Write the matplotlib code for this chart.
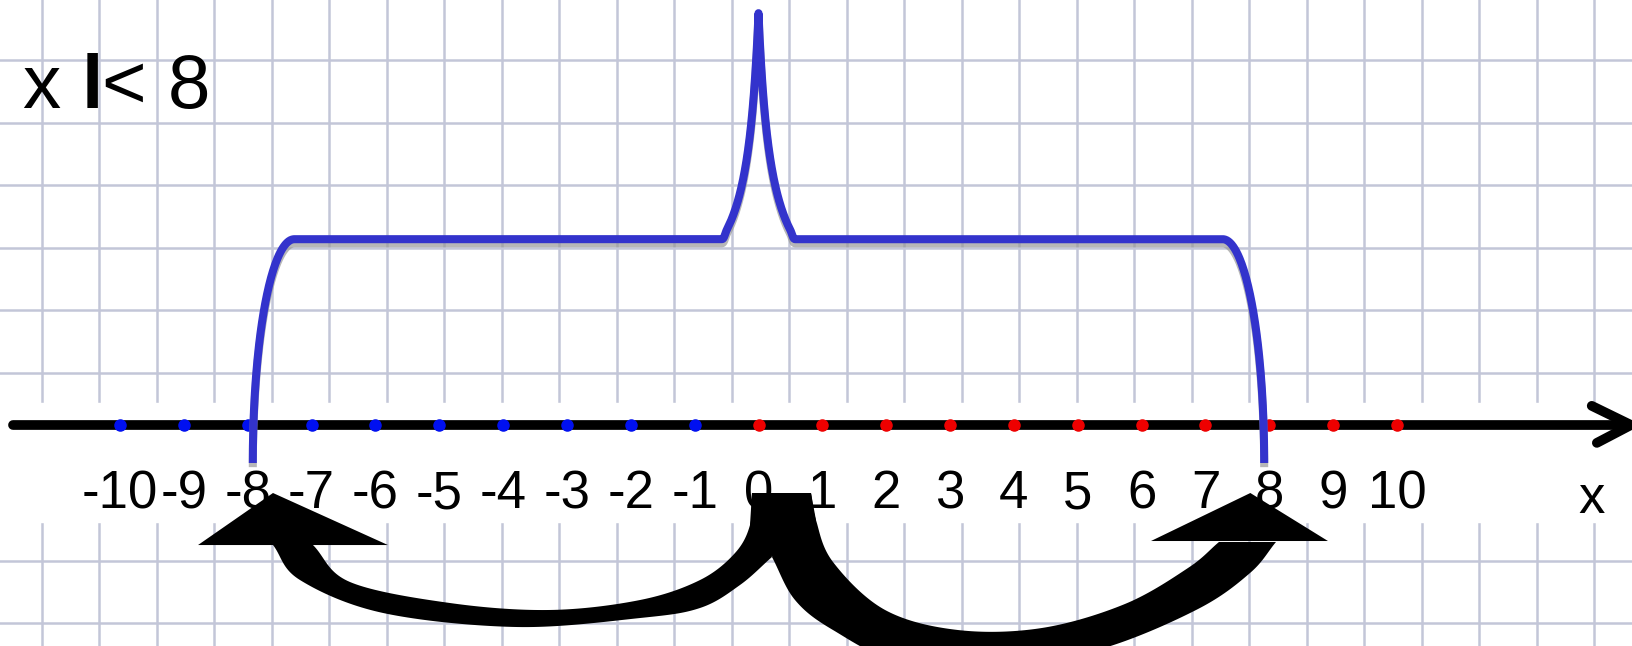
import numpy as np
import matplotlib.pyplot as plt
import matplotlib.patheffects as pe

# number line data
numbers = list(range(-10, 11))
neg_numbers = [n for n in numbers if n < 0]
pos_numbers = [n for n in numbers if n >= 0]
bound = 8
title_parts = ["x", "l", "< 8"]

W, H = 1633, 646
S = 63.85          # pixels per unit
X0, Y0 = 758.5, 425  # pixel position of 0 on the line


def smooth(pts, n=24):
    # catmull-rom through the given outline points
    p = np.asarray(pts, float)
    p = np.vstack([2 * p[0] - p[1], p, 2 * p[-1] - p[-2]])
    out = []
    t = np.linspace(0, 1, n, endpoint=False)[:, None]
    for i in range(1, len(p) - 2):
        p0, p1, p2, p3 = p[i - 1], p[i], p[i + 1], p[i + 2]
        seg = 0.5 * (2 * p1 + (-p0 + p2) * t + (2 * p0 - 5 * p1 + 4 * p2 - p3) * t ** 2
                     + (-p0 + 3 * p1 - 3 * p2 + p3) * t ** 3)
        out.append(seg)
    out.append(p[-2][None])
    return np.vstack(out)


fig = plt.figure(figsize=(W / 100, H / 100), dpi=100)
ax = fig.add_axes([0, 0, 1, 1])
ax.set_xlim(-X0 / S, (W - X0) / S)
ax.set_ylim(-(H - Y0) / S, Y0 / S)
ax.axis('off')

# squared paper
grid_c = '#c3c6d8'
for k in range(28):
    ax.axvline((41.7 + 57.51 * k - X0) / S, color=grid_c, lw=1.8, zorder=0)
for k in range(10):
    ax.axhline((Y0 - (60 + 62.6 * k)) / S, color=grid_c, lw=1.8, zorder=0)

# white strip behind the number line
ax.axhspan(-1.52, 0.345, color='white', zorder=1)

# number line with arrow
ax.plot([-11.676, 13.6], [0, 0], color='black', lw=7, solid_capstyle='round', zorder=2)
ax.plot([13.05, 13.665, 13.13], [0.3, 0, -0.28], color='black', lw=7,
        solid_capstyle='round', solid_joinstyle='miter', zorder=2)
ax.plot(neg_numbers, [0] * len(neg_numbers), 'o', color='#0010f0', ms=8, zorder=3)
ax.plot(pos_numbers, [0] * len(pos_numbers), 'o', color='#ee0000', ms=8, zorder=3)

for n in numbers:
    ax.text(n, -1.30, str(n), ha='center', va='baseline', fontsize=38,
            family='Liberation Sans', zorder=3)
ax.text(13.04, -1.378, 'x', ha='center', va='baseline', fontsize=38,
        family='Liberation Sans', zorder=3)

# brace |x| < 8
top = 2.91
foot = -0.595
peak = 6.45
leg = bound - 0.08
a = 0.65
th = np.linspace(0, np.pi / 2, 80)
leg_x = -leg + a * (1 - np.cos(th))
leg_y = foot + (top - foot) * np.sin(th)
hw = 0.58
e = 0.2
A = (peak - top) / (1 / e - 1 / (hw + e))
d = np.linspace(hw, 0, 160)
rise = A / (d + e) - A / (hw + e)
s = np.clip((hw - d) / 0.08, 0, 1)
rise = rise * (s * s * (3 - 2 * s))
pk_x = -d
pk_y = top + rise
bx = np.concatenate([leg_x, pk_x, -pk_x[::-1], -leg_x[::-1]])
by = np.concatenate([leg_y, pk_y, pk_y[::-1], leg_y[::-1]])
ax.plot(bx, by, color='#3333cc', lw=5.8, solid_capstyle='butt', solid_joinstyle='round',
        zorder=4,
        path_effects=[pe.SimpleLineShadow(offset=(0, -3), shadow_color='#999999', alpha=0.7),
                      pe.Normal()])

# curved arrows from 0 to -8 and to 8
left_inner = [(-0.102, -1.065), (-0.133, -1.566), (-0.368, -2.005), (-0.916, -2.428),
              (-1.856, -2.741), (-3.265, -2.897), (-4.832, -2.788), (-6.398, -2.459),
              (-6.978, -1.879)]
left_outer = [(-7.604, -1.879), (-7.181, -2.428), (-5.881, -2.944), (-3.782, -3.164),
              (-1.856, -3.023), (-0.916, -2.866), (-0.290, -2.506), (0.211, -2.067)]
right_inner = [(0.822, -1.065), (0.900, -1.488), (1.167, -2.146), (1.982, -2.897),
               (3.125, -3.211), (4.440, -3.179), (5.740, -2.803), (6.726, -2.240),
               (7.212, -1.832)]
right_outer = [(8.105, -1.832), (7.698, -2.318), (6.883, -2.882), (5.411, -3.493),
               (3.782, -3.806), (2.216, -3.712), (1.167, -3.211), (0.572, -2.741),
               (0.211, -2.067)]

left_poly = np.vstack([smooth(left_inner), smooth(left_outer)])
right_poly = np.vstack([smooth(right_inner), smooth(right_outer)])
block = np.array([(-0.102, -1.065), (0.822, -1.065), (0.900, -1.488), (0.211, -2.067),
                  (-0.133, -1.566)])
head_l = np.array([(-7.604, -1.065), (-8.778, -1.88), (-5.803, -1.88)])
head_r = np.array([(7.703, -1.065), (6.147, -1.817), (8.919, -1.817)])
for poly in [left_poly, right_poly, block, head_l, head_r]:
    ax.fill(poly[:, 0], poly[:, 1], color='black', lw=0, zorder=5)

# inequality text
tx = [(22 - X0) / S, (82 - X0) / S, (102 - X0) / S]
ty = (Y0 - 108) / S
ax.text(tx[0], ty, title_parts[0], fontsize=55, family='Liberation Sans', va='baseline', zorder=6)
ax.text(tx[1], ty, title_parts[1], fontsize=55, family='Liberation Sans', weight='bold',
        va='baseline', zorder=6)
ax.text(tx[2], ty, title_parts[2], fontsize=55, family='Liberation Sans', va='baseline', zorder=6)

plt.savefig('out.png', dpi=100)
